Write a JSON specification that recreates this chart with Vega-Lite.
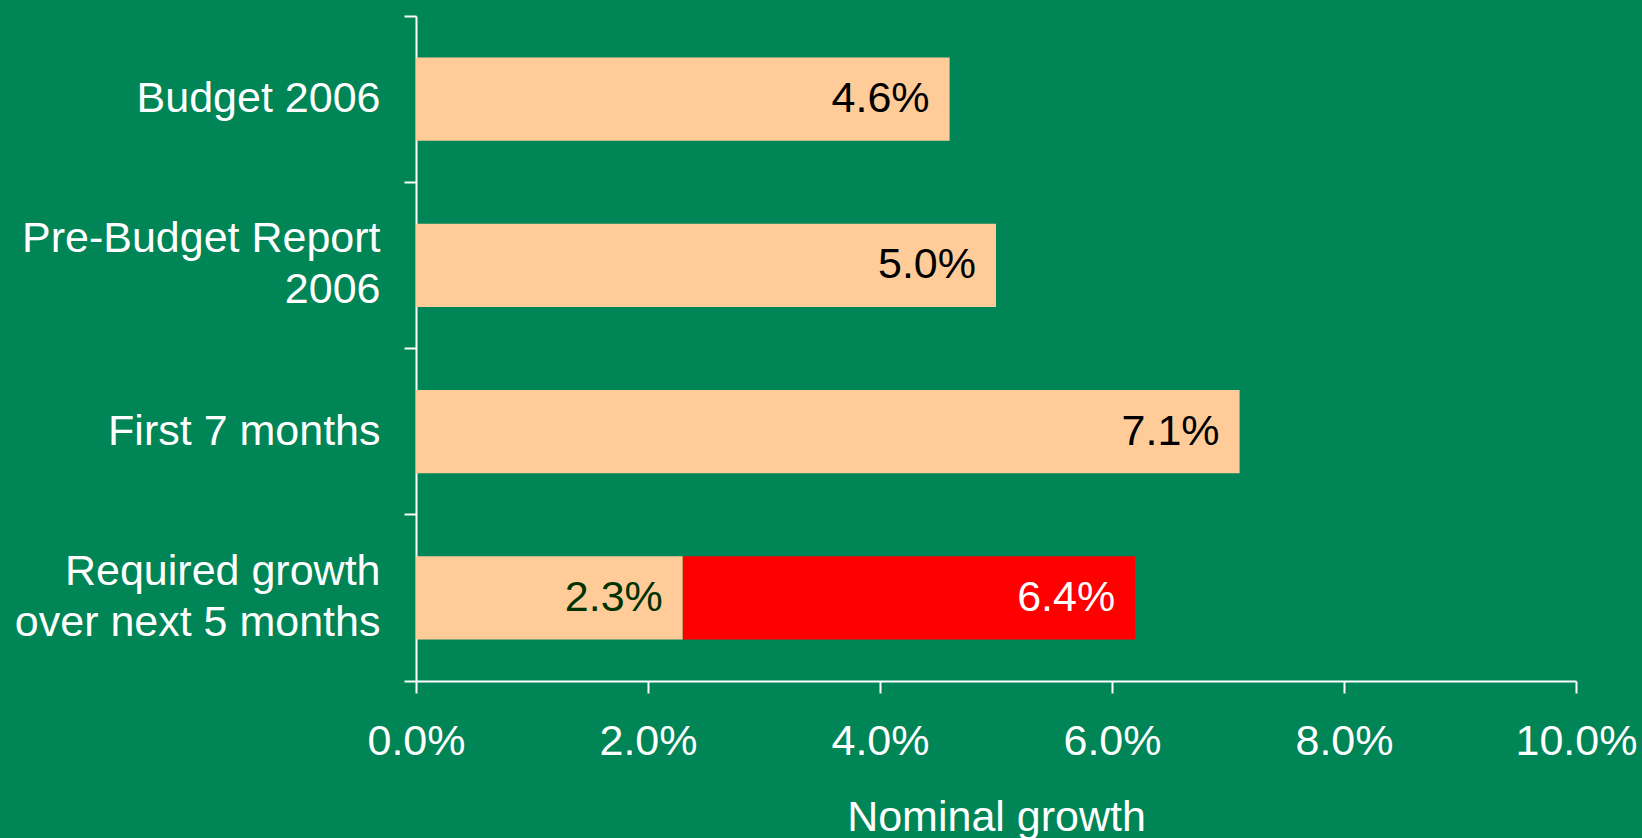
{
  "$schema": "https://vega.github.io/schema/vega-lite/v6.json",
  "width": 1160,
  "height": 665,
  "autosize": "none",
  "padding": {"left": 416, "top": 16, "right": 66, "bottom": 157},
  "background": "#008556",
  "config": {"view": {"stroke": null}, "font": "Liberation Sans"},
  "data": {
    "values": [
      {"category": "Budget 2006", "seg": "base", "start": 0, "end": 0.046, "label": "4.6%", "tone": "dark"},
      {"category": "Pre-Budget Report 2006", "seg": "base", "start": 0, "end": 0.05, "label": "5.0%", "tone": "dark"},
      {"category": "First 7 months", "seg": "base", "start": 0, "end": 0.071, "label": "7.1%", "tone": "dark"},
      {"category": "Required growth over next 5 months", "seg": "base", "start": 0, "end": 0.023, "label": "2.3%", "tone": "green"},
      {"category": "Required growth over next 5 months", "seg": "required", "start": 0.023, "end": 0.062, "label": "6.4%", "tone": "light"}
    ]
  },
  "encoding": {
    "y": {
      "field": "category",
      "type": "nominal",
      "sort": null,
      "scale": {"paddingInner": 0, "paddingOuter": 0},
      "axis": {
        "title": null,
        "domainColor": "white",
        "domainWidth": 2,
        "tickColor": "white",
        "tickWidth": 2,
        "tickSize": 12,
        "bandPosition": 1,
        "tickExtra": true,
        "labelColor": "white",
        "labelFontSize": 43,
        "labelPadding": 24,
        "labelLineHeight": 51,
        "labelLimit": 500,
        "labelBaseline": {
          "condition": {"test": "datum.value == 'Pre-Budget Report 2006' || datum.value == 'Required growth over next 5 months'", "value": "line-bottom"},
          "value": "middle"
        },
        "labelExpr": "datum.value == 'Pre-Budget Report 2006' ? ['Pre-Budget Report', '2006'] : datum.value == 'Required growth over next 5 months' ? ['Required growth', 'over next 5 months'] : datum.value"
      }
    }
  },
  "layer": [
    {
      "mark": {"type": "bar", "height": {"band": 0.5}},
      "encoding": {
        "x": {
          "field": "start",
          "type": "quantitative",
          "scale": {"domain": [0, 0.1], "nice": false},
          "axis": {
            "values": [0, 0.02, 0.04, 0.06, 0.08, 0.1],
            "format": ".1%",
            "grid": false,
            "title": "Nominal growth",
            "titleColor": "white",
            "titleFontSize": 43,
            "titleFontWeight": "normal",
            "titlePadding": 33,
            "domainColor": "white",
            "domainWidth": 2,
            "tickColor": "white",
            "tickWidth": 2,
            "tickSize": 12,
            "labelColor": "white",
            "labelFontSize": 43,
            "labelPadding": 27,
            "labelFlush": false
          }
        },
        "x2": {"field": "end"},
        "color": {
          "field": "seg",
          "type": "nominal",
          "scale": {"domain": ["base", "required"], "range": ["#FFCC99", "#FF0000"]},
          "legend": null
        }
      }
    },
    {
      "mark": {"type": "text", "align": "right", "baseline": "middle", "dx": -20, "fontSize": 43},
      "encoding": {
        "x": {"field": "end", "type": "quantitative"},
        "text": {"field": "label"},
        "color": {
          "field": "tone",
          "type": "nominal",
          "scale": {"domain": ["dark", "green", "light"], "range": ["#000000", "#003300", "#FFFFFF"]},
          "legend": null
        }
      }
    }
  ],
  "resolve": {"scale": {"color": "independent"}}
}
